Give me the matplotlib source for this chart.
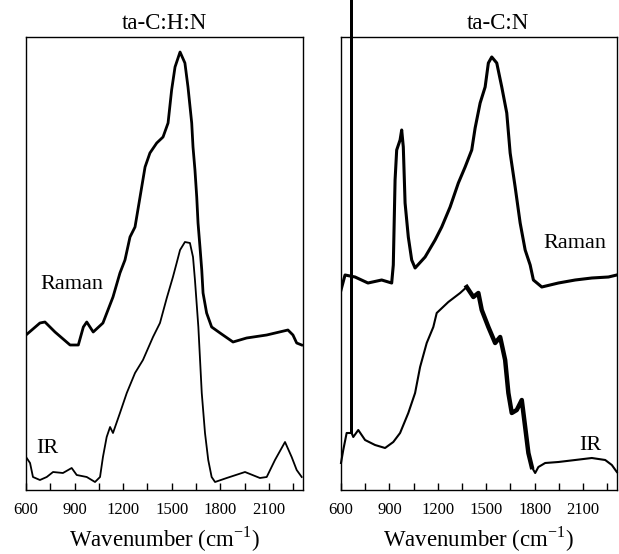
import matplotlib
matplotlib.use("Agg")
import matplotlib.pyplot as plt

plt.rcParams['font.family'] = ['Liberation Serif', 'DejaVu Serif']
plt.rcParams['mathtext.fontset'] = 'custom'
plt.rcParams['mathtext.rm'] = 'Liberation Serif'

# ---- data (wavenumber cm^-1, arbitrary intensity) ----
titles = ["ta-C:H:N", "ta-C:N"]
tick_values = [600, 750, 900, 1050, 1200, 1350, 1500, 1650, 1800, 1950, 2100, 2250]
tick_labels = ["600", "", "900", "", "1200", "", "1500", "", "1800", "", "2100", ""]

# ta-C:H:N Raman
chn_raman_wn = [600, 686, 717, 779, 872, 923, 954, 975, 1015, 1075, 1137, 1180, 1211,
                1242, 1273, 1304, 1335, 1365, 1407, 1446, 1477, 1499, 1520, 1551, 1581,
                1600, 1623, 1631, 1643, 1654, 1662, 1674, 1685, 1693, 1715, 1746, 1798,
                1878, 1962, 2086, 2217, 2248, 2271, 2302]
chn_raman_int = [155, 167, 168, 158, 145, 145, 163, 168, 158, 167, 193, 217, 230,
                 253, 263, 293, 323, 337, 347, 353, 367, 400, 423, 438, 427,
                 403, 367, 343, 320, 293, 267, 243, 220, 197, 177, 163, 157,
                 148, 152, 155, 160, 155, 147, 145]

# ta-C:H:N IR
chn_ir_wn = [600, 625, 643, 686, 728, 767, 828, 882, 913, 975, 1026, 1057, 1075, 1098,
             1119, 1137, 1180, 1222, 1273, 1322, 1384, 1427, 1469, 1507, 1530, 1551,
             1581, 1612, 1631, 1643, 1664, 1685, 1705, 1725, 1746, 1767, 1839, 1952,
             2044, 2086, 2137, 2199, 2240, 2271, 2302]
chn_ir_int = [33, 27, 13, 10, 13, 18, 17, 22, 15, 13, 8, 13, 33, 53,
              63, 57, 77, 97, 117, 130, 153, 167, 192, 213, 227, 240,
              248, 247, 233, 210, 163, 97, 57, 30, 13, 8, 12, 18,
              12, 13, 30, 48, 33, 20, 13]

# ta-C:N Raman
cn_raman_wn = [600, 625, 687, 767, 852, 914, 924, 935, 945, 966, 976, 986, 997, 1017,
               1038, 1059, 1121, 1183, 1224, 1276, 1327, 1369, 1410, 1431, 1462, 1493,
               1513, 1534, 1565, 1596, 1627, 1648, 1679, 1710, 1741, 1772, 1792, 1844,
               1947, 2051, 2154, 2257, 2309]
cn_raman_int = [200, 215, 213, 207, 210, 207, 225, 310, 340, 350, 360, 343, 287, 253,
                230, 222, 233, 250, 263, 283, 307, 323, 340, 362, 387, 403,
                427, 433, 427, 403, 377, 337, 303, 267, 240, 225, 210, 203,
                207, 210, 212, 213, 215]

# ta-C:N IR
cn_ir_wn = [600, 614, 635, 656, 664, 665, 666, 676, 707, 749, 811, 873, 924, 966, 1017,
            1059, 1090, 1131, 1172, 1193, 1265, 1338, 1379, 1420, 1451, 1472, 1513,
            1555, 1586, 1617, 1637, 1658, 1689, 1720, 1741, 1761, 1782, 1803, 1823,
            1865, 1947, 2051, 2154, 2237, 2278, 2309]
cn_ir_int = [27, 40, 57, 57, 57, 560, 57, 53, 60, 50, 45, 42, 48, 57, 77,
             97, 123, 147, 163, 177, 188, 197, 203, 193, 197, 180, 163,
             147, 153, 130, 97, 77, 80, 90, 63, 37, 23, 17, 23,
             27, 28, 30, 32, 30, 25, 18]

fig = plt.figure(figsize=(6.19, 5.54), dpi=100)
ax1 = fig.add_axes([26/619, 64/554, 277/619, 453/554])
ax2 = fig.add_axes([341/619, 64/554, 276/619, 453/554])

ax1.plot(chn_raman_wn, chn_raman_int, color='black', lw=2.0)
ax1.plot(chn_ir_wn, chn_ir_int, color='black', lw=1.3)
ax2.plot(cn_raman_wn, cn_raman_int, color='black', lw=2.2)
ax2.plot(cn_ir_wn, cn_ir_int, color='black', lw=1.5, clip_on=False)
# noisier part of the ta-C:N IR band drawn heavier
ax2.plot(cn_ir_wn[22:37], cn_ir_int[22:37], color='black', lw=3.2)

for ax, title, tx in [(ax1, titles[0], 0.5), (ax2, titles[1], 0.567)]:
    ax.set_xlim(600, 2310)
    ax.set_ylim(0, 453)
    ax.set_yticks([])
    ax.set_xticks(tick_values)
    ax.set_xticklabels(tick_labels)
    ax.tick_params(axis='x', direction='in', length=5, width=1, pad=9, labelsize=12)
    for s in ax.spines.values():
        s.set_linewidth(1.0)
    ax.text(tx, 1.017, title, transform=ax.transAxes, ha='center', va='baseline', fontsize=16.5)
    ax.text(0.5, -0.124, "Wavenumber (cm$^{\\mathregular{-1}}$)", transform=ax.transAxes,
            ha='center', va='baseline', fontsize=16.5)

ax1.text(0.0505, 0.4437, "Raman", transform=ax1.transAxes, ha='left', va='baseline', fontsize=16)
ax1.text(0.0386, 0.0817, "IR", transform=ax1.transAxes, ha='left', va='baseline', fontsize=16)
ax2.text(0.9627, 0.5336, "Raman", transform=ax2.transAxes, ha='right', va='baseline', fontsize=16)
ax2.text(0.942, 0.0883, "IR", transform=ax2.transAxes, ha='right', va='baseline', fontsize=16)

fig.savefig("out.png", dpi=100)
